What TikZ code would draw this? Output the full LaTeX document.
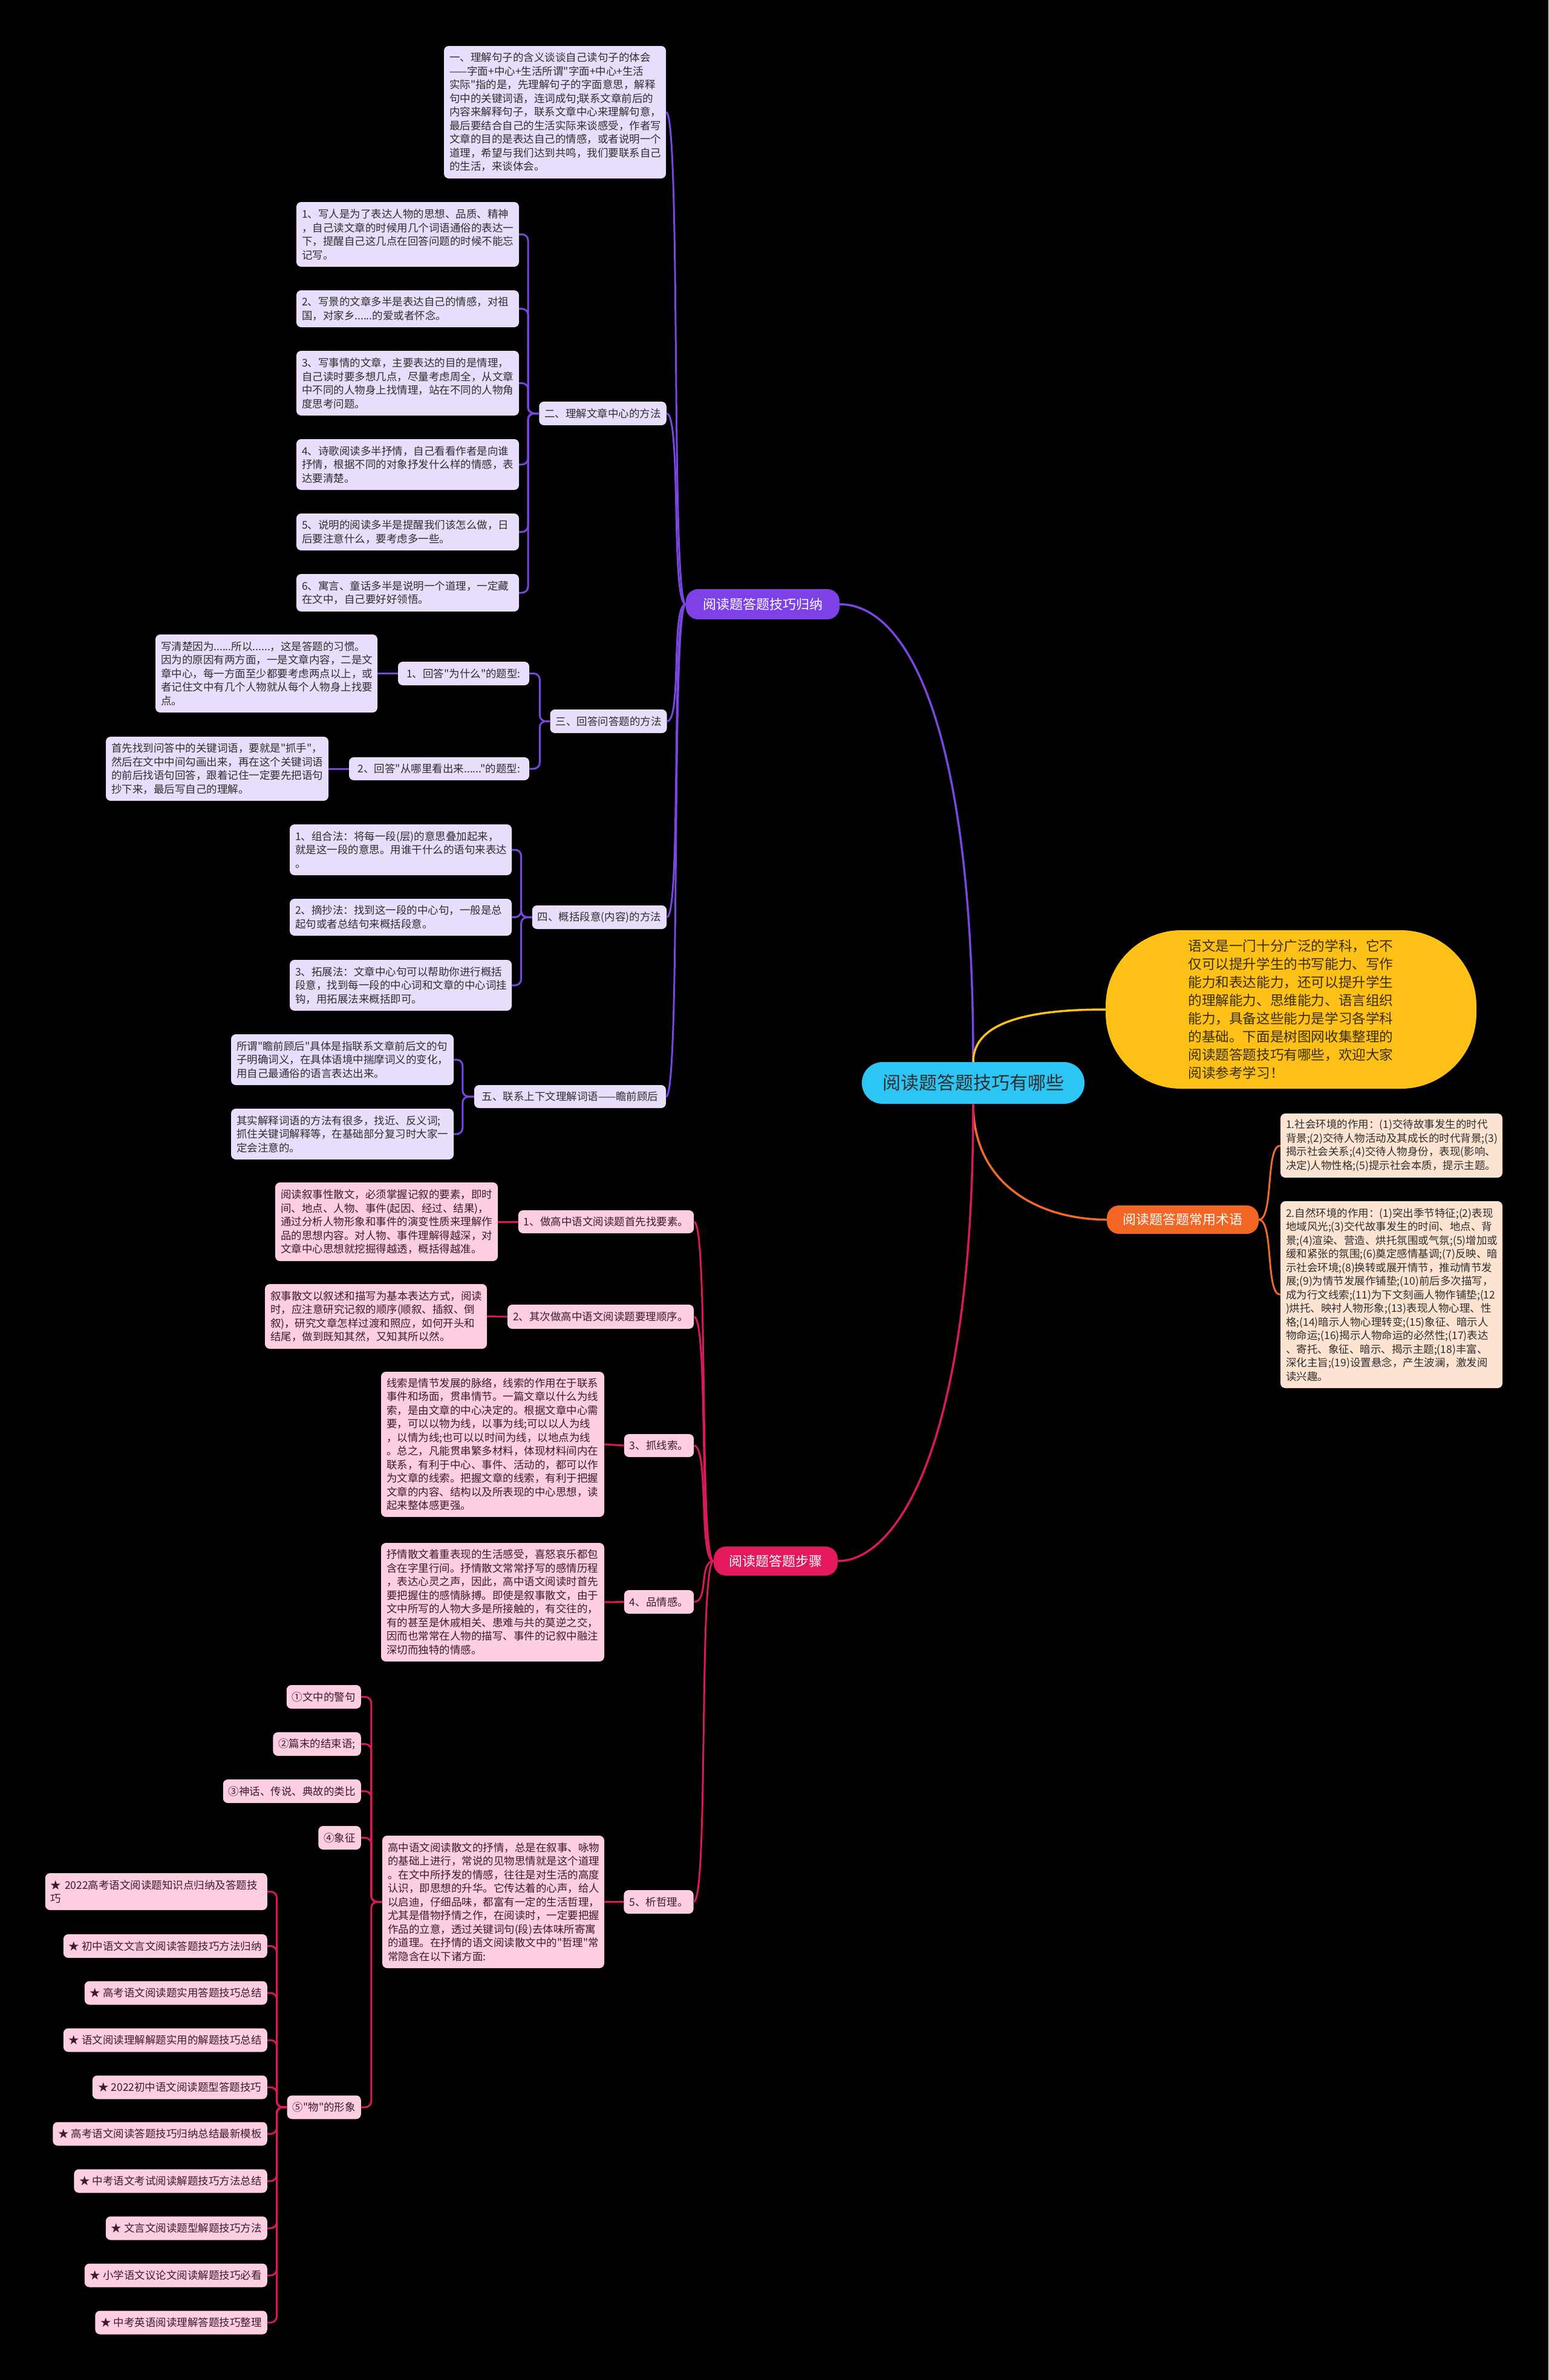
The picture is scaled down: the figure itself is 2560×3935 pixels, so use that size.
\documentclass[tikz,border=0pt]{standalone}
\usepackage{fontspec}
\setmainfont{Noto Sans CJK SC}[Ligatures=TeXOff]
\definecolor{lav}{HTML}{E8DDFB}
\definecolor{pnk}{HTML}{FDCDE2}
\definecolor{pch}{HTML}{FDE3D2}
\definecolor{pur}{HTML}{7D41E6}
\definecolor{purl}{HTML}{7B45DF}
\definecolor{crm}{HTML}{E4185C}
\definecolor{crml}{HTML}{D71A5E}
\definecolor{org}{HTML}{F26522}
\definecolor{orgl}{HTML}{F06A28}
\definecolor{cyn}{HTML}{2DC5F4}
\definecolor{ylw}{HTML}{FCC016}
\definecolor{txtd}{HTML}{2E2E2E}
\definecolor{txtp}{HTML}{3E1A2C}
\definecolor{txty}{HTML}{3A2E10}
\tikzset{
  base/.style={rounded corners=8pt, inner xsep=9pt, inner ysep=3pt,
    font=\fontsize{17.5pt}{22.5pt}\selectfont, align=left},
  lav/.style={base, fill=lav, text=txtd},
  pnk/.style={base, fill=pnk, text=txtp},
  pch/.style={base, fill=pch, text=txtd},
  mainb/.style={rounded corners=20pt, text=white, inner sep=4pt,
    font=\fontsize{22pt}{26pt}\selectfont},
  pline/.style={draw=purl, line width=3pt},
  cline/.style={draw=crml, line width=3pt},
  oline/.style={draw=orgl, line width=3pt},
  brk/.style={rounded corners=10pt},
}
\begin{document}
\begin{tikzpicture}[x=1pt,y=-1pt]
\fill[black] (0,0) rectangle (2560,3935);
\useasboundingbox (0,0) rectangle (2560,3935);

% ---------- center and main branches ----------
\node[fill=cyn, rounded corners=34pt, minimum width=368pt, minimum height=69pt,
  text=txtd, font=\fontsize{30pt}{36pt}\selectfont] (c) at (1609,1790.5) {阅读题答题技巧有哪些};
\node[fill=ylw, rounded corners=125pt, minimum width=613pt, minimum height=262pt,
  text width=340pt, align=left, text=txty, font=\fontsize{22.6pt}{30pt}\selectfont] (y) at (2134.5,1669)
  {语文是一门十分广泛的学科，它不\\仅可以提升学生的书写能力、写作\\能力和表达能力，还可以提升学生\\的理解能力、思维能力、语言组织\\能力，具备这些能力是学习各学科\\的基础。下面是树图网收集整理的\\阅读题答题技巧有哪些，欢迎大家\\阅读参考学习！};
\node[mainb, fill=pur, minimum width=254pt, minimum height=50pt] (pm) at (1261,999) {阅读题答题技巧归纳};
\node[mainb, fill=org, minimum width=251pt, minimum height=47pt] (om) at (1955.5,2016.5) {阅读题答题常用术语};
\node[mainb, fill=crm, minimum width=205pt, minimum height=48pt] (cm) at (1282.5,2581) {阅读题答题步骤};

\draw[pline, line width=3.5pt] (c.north) .. controls (1609,1200) and (1500,999) .. (pm.east);
\draw[draw=ylw, line width=3.5pt] (c.north) .. controls (1609,1690) and (1700,1669) .. (y.west);
\draw[oline, line width=3.5pt] (c.south) .. controls (1609,1960) and (1720,2016.5) .. (om.west);
\draw[cline, line width=3.5pt] (c.south) .. controls (1609,2400) and (1480,2581) .. (cm.east);

% ---------- purple branch ----------
\node[lav, text width=349pt, minimum height=219pt] (p1) at (917.5,185.5)
  {一、理解句子的含义谈谈自己读句子的体会\\——字面+中心+生活所谓"字面+中心+生活\\实际"指的是，先理解句子的字面意思，解释\\句中的关键词语，连词成句;联系文章前后的\\内容来解释句子，联系文章中心来理解句意，\\最后要结合自己的生活实际来谈感受，作者写\\文章的目的是表达自己的情感，或者说明一个\\道理，希望与我们达到共鸣，我们要联系自己\\的生活，来谈体会。};
\node[lav, minimum width=209pt, minimum height=39pt] (p2) at (996.5,683.5) {二、理解文章中心的方法};
\node[lav, text width=350pt, minimum height=107pt] (p2a) at (674,387.5)
  {1、写人是为了表达人物的思想、品质、精神\\，自己读文章的时候用几个词语通俗的表达一\\下，提醒自己这几点在回答问题的时候不能忘\\记写。};
\node[lav, text width=350pt, minimum height=61pt] (p2b) at (674,510.5)
  {2、写景的文章多半是表达自己的情感，对祖\\国，对家乡......的爱或者怀念。};
\node[lav, text width=350pt, minimum height=107pt] (p2c) at (674,633.5)
  {3、写事情的文章，主要表达的目的是情理，\\自己读时要多想几点，尽量考虑周全，从文章\\中不同的人物身上找情理，站在不同的人物角\\度思考问题。};
\node[lav, text width=350pt, minimum height=84pt] (p2d) at (674,768)
  {4、诗歌阅读多半抒情，自己看看作者是向谁\\抒情，根据不同的对象抒发什么样的情感，表\\达要清楚。};
\node[lav, text width=350pt, minimum height=61pt] (p2e) at (674,879.5)
  {5、说明的阅读多半是提醒我们该怎么做，日\\后要注意什么，要考虑多一些。};
\node[lav, text width=350pt, minimum height=62pt] (p2f) at (674,980)
  {6、寓言、童话多半是说明一个道理，一定藏\\在文中，自己要好好领悟。};

\node[lav, minimum width=192pt, minimum height=39pt] (p3) at (1006,1192.5) {三、回答问答题的方法};
\node[lav, minimum width=217pt, minimum height=39pt] (p3a) at (766.5,1113.5) {1、回答"为什么"的题型:};
\node[lav, text width=349pt, minimum height=129pt] (p3a1) at (440.5,1113.5)
  {写清楚因为......所以......，这是答题的习惯。\\因为的原因有两方面，一是文章内容，二是文\\章中心，每一方面至少都要考虑两点以上，或\\者记住文中有几个人物就从每个人物身上找要\\点。};
\node[lav, minimum width=298pt, minimum height=38pt] (p3b) at (726,1271) {2、回答"从哪里看出来......"的题型:};
\node[lav, text width=350pt, minimum height=106pt] (p3b1) at (359,1271)
  {首先找到问答中的关键词语，要就是"抓手"，\\然后在文中中间勾画出来，再在这个关键词语\\的前后找语句回答，跟着记住一定要先把语句\\抄下来，最后写自己的理解。};

\node[lav, minimum width=220pt, minimum height=39pt] (p4) at (991,1516.5) {四、概括段意(内容)的方法};
\node[lav, text width=349pt, minimum height=84pt] (p4a) at (662.5,1405)
  {1、组合法：将每一段(层)的意思叠加起来，\\就是这一段的意思。用谁干什么的语句来表达\\。};
\node[lav, text width=349pt, minimum height=61pt] (p4b) at (662.5,1516.5)
  {2、摘抄法：找到这一段的中心句，一般是总\\起句或者总结句来概括段意。};
\node[lav, text width=349pt, minimum height=84pt] (p4c) at (662.5,1629)
  {3、拓展法：文章中心句可以帮助你进行概括\\段意，找到每一段的中心词和文章的中心词挂\\钩，用拓展法来概括即可。};

\node[lav, minimum width=317pt, minimum height=38pt] (p5) at (942.5,1813) {五、联系上下文理解词语——瞻前顾后};
\node[lav, text width=350pt, minimum height=84pt] (p5a) at (566,1752)
  {所谓"瞻前顾后"具体是指联系文章前后文的句\\子明确词义，在具体语境中揣摩词义的变化，\\用自己最通俗的语言表达出来。};
\node[lav, text width=350pt, minimum height=84pt] (p5b) at (566,1875)
  {其实解释词语的方法有很多，找近、反义词;\\抓住关键词解释等，在基础部分复习时大家一\\定会注意的。};

\foreach \t in {p1,p2,p3,p4,p5}
  \draw[pline] (pm.west) .. controls +(-25,0) and +(25,0) .. (\t.east);
\foreach \t in {p2a,p2b,p2c,p2d,p2e,p2f}
  \draw[pline, brk] (p2.west) -- ++(-18,0) |- (\t.east);
\foreach \t in {p3a,p3b}
  \draw[pline, brk] (p3.west) -- ++(-17,0) |- (\t.east);
\draw[pline] (p3a.west) -- (p3a1.east);
\draw[pline] (p3b.west) -- (p3b1.east);
\foreach \t in {p4a,p4b,p4c}
  \draw[pline, brk] (p4.west) -- ++(-18,0) |- (\t.east);
\foreach \t in {p5a,p5b}
  \draw[pline, brk] (p5.west) -- ++(-19,0) |- (\t.east);

% ---------- orange branch ----------
\node[pch, text width=349pt, minimum height=106pt] (o1) at (2300.5,1894)
  {1.社会环境的作用：(1)交待故事发生的时代\\背景;(2)交待人物活动及其成长的时代背景;(3)\\揭示社会关系;(4)交待人物身份，表现(影响、\\决定)人物性格;(5)提示社会本质，提示主题。};
\node[pch, text width=349pt, minimum height=309pt] (o2) at (2300.5,2140.5)
  {2.自然环境的作用：(1)突出季节特征;(2)表现\\地域风光;(3)交代故事发生的时间、地点、背\\景;(4)渲染、营造、烘托氛围或气氛;(5)增加或\\缓和紧张的氛围;(6)奠定感情基调;(7)反映、暗\\示社会环境;(8)换转或展开情节，推动情节发\\展;(9)为情节发展作铺垫;(10)前后多次描写，\\成为行文线索;(11)为下文刻画人物作铺垫;(12\\)烘托、映衬人物形象;(13)表现人物心理、性\\格;(14)暗示人物心理转变;(15)象征、暗示人\\物命运;(16)揭示人物命运的必然性;(17)表达\\、寄托、象征、暗示、揭示主题;(18)丰富、\\深化主旨;(19)设置悬念，产生波澜，激发阅\\读兴趣。};
\foreach \t in {o1,o2}
  \draw[oline] (om.east) .. controls +(25,0) and +(-25,0) .. (\t.west);

% ---------- crimson branch ----------
\node[pnk, minimum width=290pt, minimum height=38pt] (c1) at (1002,2020) {1、做高中语文阅读题首先找要素。};
\node[pnk, text width=350pt, minimum height=130pt] (c1a) at (639,2020)
  {阅读叙事性散文，必须掌握记叙的要素，即时\\间、地点、人物、事件(起因、经过、结果)，\\通过分析人物形象和事件的演变性质来理解作\\品的思想内容。对人物、事件理解得越深，对\\文章中心思想就挖掘得越透，概括得越准。};
\node[pnk, minimum width=308pt, minimum height=40pt] (c2) at (993,2177) {2、其次做高中语文阅读题要理顺序。};
\node[pnk, text width=349pt, minimum height=107pt] (c2a) at (621.5,2176.5)
  {叙事散文以叙述和描写为基本表达方式，阅读\\时，应注意研究记叙的顺序(顺叙、插叙、倒\\叙)，研究文章怎样过渡和照应，如何开头和\\结尾，做到既知其然，又知其所以然。};
\node[pnk, minimum width=115pt, minimum height=38pt] (c3) at (1089.5,2390) {3、抓线索。};
\node[pnk, text width=351pt, minimum height=240pt] (c3a) at (814.5,2388)
  {线索是情节发展的脉络，线索的作用在于联系\\事件和场面，贯串情节。一篇文章以什么为线\\索，是由文章的中心决定的。根据文章中心需\\要，可以以物为线，以事为线;可以以人为线\\，以情为线;也可以以时间为线，以地点为线\\。总之，凡能贯串繁多材料，体现材料间内在\\联系，有利于中心、事件、活动的，都可以作\\为文章的线索。把握文章的线索，有利于把握\\文章的内容、结构以及所表现的中心思想，读\\起来整体感更强。};
\node[pnk, minimum width=115pt, minimum height=39pt] (c4) at (1089.5,2648.5) {4、品情感。};
\node[pnk, text width=351pt, minimum height=196pt] (c4a) at (814.5,2649)
  {抒情散文着重表现的生活感受，喜怒哀乐都包\\含在字里行间。抒情散文常常抒写的感情历程\\，表达心灵之声，因此，高中语文阅读时首先\\要把握住的感情脉搏。即使是叙事散文，由于\\文中所写的人物大多是所接触的，有交往的，\\有的甚至是休戚相关、患难与共的莫逆之交，\\因而也常常在人物的描写、事件的记叙中融注\\深切而独特的情感。};
\node[pnk, minimum width=114pt, minimum height=39pt] (c5) at (1089,3144.5) {5、析哲理。};
\node[pnk, text width=349pt, minimum height=219pt] (c5e) at (815.5,3144.5)
  {高中语文阅读散文的抒情，总是在叙事、咏物\\的基础上进行，常说的见物思情就是这个道理\\。在文中所抒发的情感，往往是对生活的高度\\认识，即思想的升华。它传达着的心声，给人\\以启迪，仔细品味，都富有一定的生活哲理，\\尤其是借物抒情之作，在阅读时，一定要把握\\作品的立意，透过关键词句(段)去体味所寄寓\\的道理。在抒情的语文阅读散文中的"哲理"常\\常隐含在以下诸方面:};
\node[pnk, anchor=east, minimum width=122pt, minimum height=39pt] (q1) at (597,2805.5) {①文中的警句};
\node[pnk, anchor=east, minimum width=144pt, minimum height=39pt] (q2) at (597,2883.5) {②篇末的结束语;};
\node[pnk, anchor=east, minimum width=227pt, minimum height=39pt] (q3) at (597,2961.5) {③神话、传说、典故的类比};
\node[pnk, anchor=east, minimum width=68pt, minimum height=39pt] (q4) at (597,3038.5) {④象征};
\node[pnk, anchor=east, minimum width=120pt, minimum height=39pt] (q5) at (597,3484) {⑤"物"的形象};

\node[pnk, anchor=east, text width=349pt, minimum height=61pt] (s1) at (442,3127.5) {★ 2022高考语文阅读题知识点归纳及答题技\\巧};
\node[pnk, anchor=east, minimum width=333pt, minimum height=39pt] (s2) at (442,3217.5) {★ 初中语文文言文阅读答题技巧方法归纳};
\node[pnk, anchor=east, minimum width=299pt, minimum height=39pt] (s3) at (442,3295) {★ 高考语文阅读题实用答题技巧总结};
\node[pnk, anchor=east, minimum width=319pt, minimum height=39pt] (s4) at (442,3373) {★ 语文阅读理解解题实用的解题技巧总结};
\node[pnk, anchor=east, minimum width=289pt, minimum height=39pt] (s5) at (442,3451) {★ 2022初中语文阅读题型答题技巧};
\node[pnk, anchor=east, minimum width=352pt, minimum height=39pt] (s6) at (442,3528) {★ 高考语文阅读答题技巧归纳总结最新模板};
\node[pnk, anchor=east, minimum width=319pt, minimum height=39pt] (s7) at (442,3606) {★ 中考语文考试阅读解题技巧方法总结};
\node[pnk, anchor=east, minimum width=266pt, minimum height=39pt] (s8) at (442,3684) {★ 文言文阅读题型解题技巧方法};
\node[pnk, anchor=east, minimum width=299pt, minimum height=39pt] (s9) at (442,3762) {★ 小学语文议论文阅读解题技巧必看};
\node[pnk, anchor=east, minimum width=284pt, minimum height=39pt] (s10) at (442,3840) {★ 中考英语阅读理解答题技巧整理};

\foreach \t in {c1,c2,c3,c4,c5}
  \draw[cline] (cm.west) .. controls +(-25,0) and +(25,0) .. (\t.east);
\draw[cline] (c1.west) -- (c1a.east);
\draw[cline] (c2.west) -- (c2a.east);
\draw[cline] (c3.west) -- (c3a.east);
\draw[cline] (c4.west) -- (c4a.east);
\draw[cline] (c5.west) -- (c5e.east);
\foreach \t in {q1,q2,q3,q4,q5}
  \draw[cline, brk] (c5e.west) -- ++(-18,0) |- (\t.east);
\foreach \t in {s1,s2,s3,s4,s5,s6,s7,s8,s9,s10}
  \draw[cline, brk] (q5.west) -- ++(-17,0) |- (\t.east);
\end{tikzpicture}
\end{document}
